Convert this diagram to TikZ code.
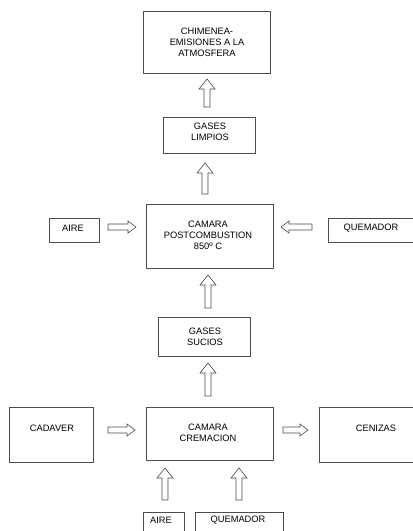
\documentclass[tikz,border=0pt]{standalone}
\usepackage{fontspec}
\setmainfont{Liberation Sans}
\usetikzlibrary{calc}
\tikzset{
  box/.style={draw=black!70, line width=0.7pt, inner sep=0pt},
  txt/.style={align=center, font=\fontsize{9.3}{11}\selectfont, text=black, inner sep=0pt},
  barrow/.style={draw=black!70, line width=0.6pt, line join=miter, fill=white},
}
\newcommand\blockarrow[4]{%
  \coordinate (baE) at (#2);
  \coordinate (baH) at ($(#2)!#3!(#1)$);
  \draw[barrow] ($(#1)!3pt!90:(#2)$) -- ($(baH)!3pt!90:(baE)$) -- ($(baH)!#4!90:(baE)$) -- (baE)
     -- ($(baH)!#4!-90:(baE)$) -- ($(baH)!3pt!-90:(baE)$) -- ($(#1)!3pt!-90:(#2)$) -- cycle;
}
\begin{document}
\begin{tikzpicture}[x=1pt,y=-1pt]
\useasboundingbox (0,0) rectangle (413,531);
\clip (0,0) rectangle (413,531);
\fill[white] (0,0) rectangle (413,531);
% boxes
\node[box, minimum width=127, minimum height=62] (chim) at (206.5,42) {};
\node[box, minimum width=92, minimum height=36] (limp) at (209,135) {};
\node[box, minimum width=127, minimum height=64] (post) at (209.5,236) {};
\node[box, minimum width=50, minimum height=24] (aire1) at (74,230) {};
\node[box, minimum width=88, minimum height=24] (quem1) at (372,230) {};
\node[box, minimum width=92, minimum height=39] (sucios) at (204,336.5) {};
\node[box, minimum width=84, minimum height=55] (cad) at (51,434.5) {};
\node[box, minimum width=127, minimum height=53] (crem) at (209.5,433.5) {};
\node[box, minimum width=113, minimum height=55] (cen) at (375.5,434.5) {};
\node[box, minimum width=41, minimum height=33] (aire2) at (163.5,528.5) {};
\node[box, minimum width=88, minimum height=33] (quem2) at (239,528.5) {};
% texts
\node[txt] (chimT) at (207,42.7) {CHIMENEA-\\EMISIONES A LA\\ATMOSFERA};
\node[txt] (limpT) at (210,131.5) {GASES\\LIMPIOS};
\node[txt] (postT) at (208,235.5) {CAMARA\\POSTCOMBUSTION\\850º C};
\node[txt] (aire1T) at (73,228) {AIRE};
\node[txt] (quem1T) at (371,228) {QUEMADOR};
\node[txt] (suciosT) at (205,336.5) {GASES\\SUCIOS};
\node[txt] (cadT) at (52,428) {CADAVER};
\node[txt] (cremT) at (208,433) {CAMARA\\CREMACION};
\node[txt] (cenT) at (376,428) {CENIZAS};
\node[txt] (aire2T) at (161,520) {AIRE};
\node[txt] (quem2T) at (238,520) {QUEMADOR};
% arrow end points
\coordinate (a1s) at (207,107); \coordinate (a1e) at (207,79);
\coordinate (a2s) at (205,194); \coordinate (a2e) at (205,163);
\coordinate (a3s) at (208,308); \coordinate (a3e) at (208,275);
\coordinate (a4s) at (208,396); \coordinate (a4e) at (208,363);
\coordinate (a5s) at (108,227); \coordinate (a5e) at (136,227);
\coordinate (a6s) at (312,227); \coordinate (a6e) at (281,227);
\coordinate (a7s) at (108,430); \coordinate (a7e) at (135,430);
\coordinate (a8s) at (283,430); \coordinate (a8e) at (308,430);
\coordinate (a9s) at (165,500); \coordinate (a9e) at (165,468);
\coordinate (a10s) at (239,500); \coordinate (a10e) at (239,468);
\blockarrow{a1s}{a1e}{10pt}{8pt}
\blockarrow{a2s}{a2e}{10pt}{8pt}
\blockarrow{a3s}{a3e}{10pt}{8pt}
\blockarrow{a4s}{a4e}{10pt}{8pt}
\blockarrow{a5s}{a5e}{8pt}{6pt}
\blockarrow{a6s}{a6e}{8pt}{6pt}
\blockarrow{a7s}{a7e}{8pt}{6pt}
\blockarrow{a8s}{a8e}{8pt}{6pt}
\blockarrow{a9s}{a9e}{10pt}{8pt}
\blockarrow{a10s}{a10e}{10pt}{8pt}
\end{tikzpicture}
\end{document}
